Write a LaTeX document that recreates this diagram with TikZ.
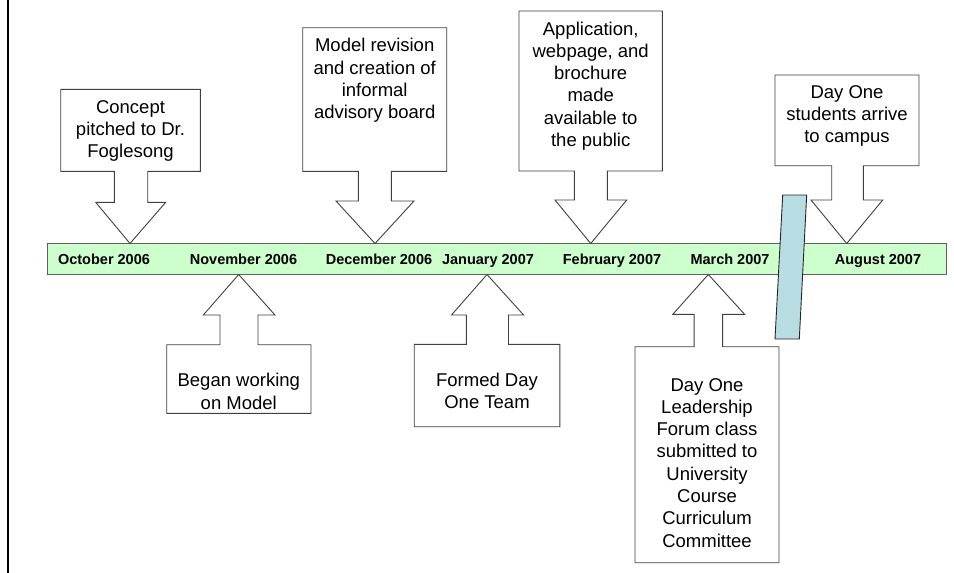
\documentclass[tikz,border=0pt]{standalone}
\usepackage{fontspec}
\setmainfont{Liberation Sans}
\definecolor{barfill}{HTML}{CCFFCC}
\definecolor{barline}{HTML}{606060}
\definecolor{slab}{HTML}{B7DDE2}
\tikzset{
  callout/.style={draw=black!75, line width=0.9pt, fill=white, line join=miter},
  ctext/.style={font=\fontsize{18.5}{22.3}\selectfont, align=center, inner sep=0pt},
  month/.style={font=\fontsize{14.5}{17}\selectfont\bfseries, inner sep=0pt, text height=10.4pt, text depth=0pt},
  barbox/.style={draw=barline, line width=0.9pt, fill=barfill, inner sep=0pt},
  slabbox/.style={draw=black!85, line width=0.9pt, fill=slab},
}
\begin{document}
\begin{tikzpicture}[x=1pt,y=-1pt]
\useasboundingbox (0,0) rectangle (954,573);
% left border
\draw[line width=2.5pt] (8,0) -- (8,573);
% timeline bar
\node[barbox, minimum width=899pt, minimum height=31pt] (bar) at (496.5,259) {};
% ---- callouts above the bar (pointing down)
% Concept
\draw[callout] (60.7,89.3) -- (200.3,89.3) -- (200.3,171.3) -- (147.7,171.3) -- (147.7,202.3)
  -- (165.7,202.3) -- (130,243.5) -- (95.7,202.3) -- (114.3,202.3) -- (114.3,171.3) -- (60.7,171.3) -- cycle;
% Model revision
\draw[callout] (302.7,27.7) -- (446.7,27.7) -- (446.7,171.3) -- (391.3,171.3) -- (391.3,201)
  -- (414,201) -- (375,243.5) -- (336,201) -- (358.3,201) -- (358.3,171.3) -- (302.7,171.3) -- cycle;
% Application
\draw[callout] (519,11) -- (662.3,11) -- (662.3,171) -- (607.3,171) -- (607.3,200)
  -- (626.7,200) -- (590.7,243.5) -- (555,200) -- (574.3,200) -- (574.3,171) -- (519,171) -- cycle;
% Day One students
\draw[callout] (775,75) -- (919,75) -- (919,165.7) -- (863.3,165.7) -- (863.3,200)
  -- (882.7,200) -- (846.7,243.5) -- (811,200) -- (831.7,200) -- (831.7,165.7) -- (775,165.7) -- cycle;
% ---- callouts below the bar (pointing up)
% Began working
\draw[callout] (166.7,413.3) -- (311,413.3) -- (311,344.7) -- (258,344.7) -- (258,315)
  -- (275,315) -- (238.7,274.5) -- (203.3,315) -- (220,315) -- (220,344.7) -- (166.7,344.7) -- cycle;
% Formed Day One Team
\draw[callout] (414.2,426.7) -- (559.9,426.7) -- (559.9,344.3) -- (508.5,344.3) -- (508.5,315)
  -- (523.6,315) -- (487,274.5) -- (451.5,315) -- (466.4,315) -- (466.4,344.3) -- (414.2,344.3) -- cycle;
% Leadership
\draw[callout] (635,562.7) -- (779,562.7) -- (779,346.7) -- (722.6,346.7) -- (722.6,314.3)
  -- (744.6,314.3) -- (708.3,274.5) -- (672.8,314.3) -- (694.1,314.3) -- (694.1,346.7) -- (635,346.7) -- cycle;
% ---- month labels
\node[month] (oct) at (104,259) {October 2006};
\node[month] (nov) at (243.5,259) {November 2006};
\node[month] (dec) at (379,259) {December 2006};
\node[month] (jan) at (488,259) {January 2007};
\node[month] (feb) at (612,259) {February 2007};
\node[month] (mar) at (730,259) {March 2007};
\node[month] (aug) at (878,259) {August 2007};
% ---- callout texts
\node[ctext] (t1) at (130.5,131) {Concept\\pitched to Dr.\\Foglesong};
\node[ctext] (t2) at (374.7,80.5) {Model revision\\and creation of\\informal\\advisory board};
\node[ctext] (t3) at (590.7,86) {Application,\\webpage, and\\brochure\\made\\available to\\the public};
\node[ctext] (t4) at (847,116) {Day One\\students arrive\\to campus};
\node[ctext] (t5) at (238.8,391.5) {Began working\\on Model};
\node[ctext] (t6) at (487,391) {Formed Day\\One Team};
\node[ctext] (t7) at (707,462.7) {Day One\\Leadership\\Forum class\\submitted to\\University\\Course\\Curriculum\\Committee};
% ---- break slab
\draw[slabbox] (782.7,195) -- (806.7,195) -- (799.3,339) -- (775,339) -- cycle;
\end{tikzpicture}
\end{document}
